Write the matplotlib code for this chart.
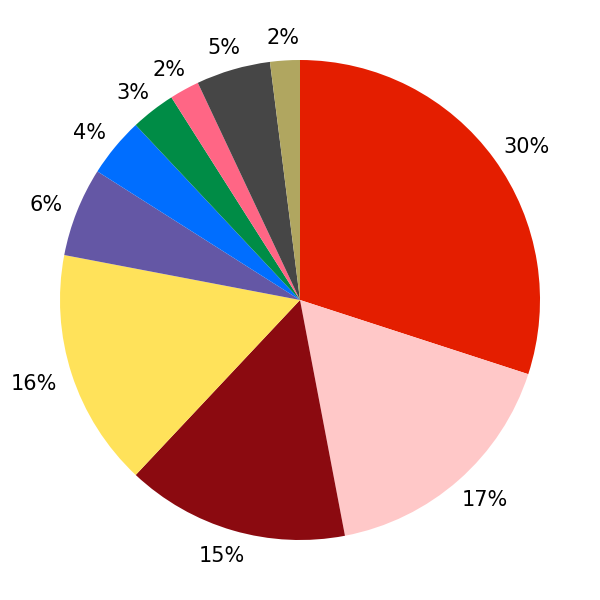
import numpy as np
import matplotlib
matplotlib.use("Agg")
import matplotlib.pyplot as plt
from matplotlib.transforms import offset_copy

#---Data---

labels = ["30%", "17%", "15%", "16%", "6%", "4%", "3%", "2%", "5%", "2%"]
values = [30, 17, 15, 16, 6, 4, 3, 2, 5, 2]
colors = ["#e41e00", "#ffc8c8", "#8b0a10", "#ffe25a", "#6457a5",
          "#006eff", "#008c46", "#ff6685", "#464646", "#b0a660"]

#---Figure---

fig = plt.figure(figsize=(6, 6), dpi=100)
ax = fig.add_axes([0, 0, 1, 1])
wedges, texts = ax.pie(values, labels=labels, colors=colors, startangle=90,
                       counterclock=False, labeldistance=1.06,
                       textprops={"fontsize": 15})
ax.set_xlim(-1.25, 1.25)
ax.set_ylim(-1.25, 1.25)
ax.set_aspect("equal")
ax.axis("off")

# push each label outward so its box sits just outside the pie
fig.canvas.draw()
renderer = fig.canvas.get_renderer()
for w, t in zip(wedges, texts):
    ang = np.deg2rad((w.theta1 + w.theta2) / 2)
    t.set_ha("center")
    t.set_va("center")
    bb = t.get_window_extent(renderer)
    dx = bb.width / 2 * np.cos(ang) * 1.1
    dy = bb.height / 2 * np.sin(ang) - 2
    t.set_transform(offset_copy(ax.transData, fig=fig, x=dx, y=dy, units="dots"))

fig.savefig("out.png", dpi=100)
